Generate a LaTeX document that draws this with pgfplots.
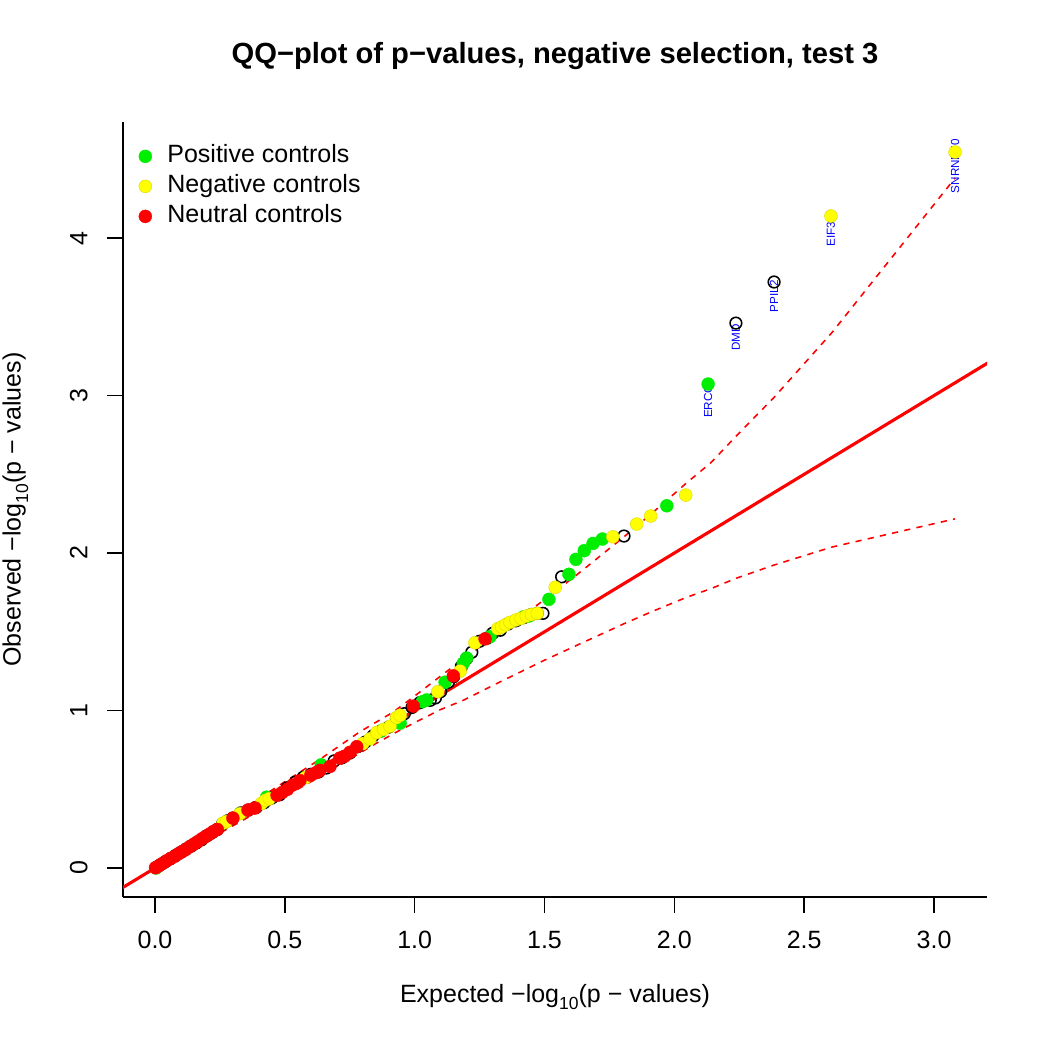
\documentclass[border=0pt]{standalone}
\usepackage{fontspec}
\setmainfont{Liberation Sans}
\usepackage{pgfplots}
\pgfplotsset{compat=1.18}
\definecolor{rgreen}{RGB}{0,238,0}
\definecolor{ryellow}{RGB}{255,255,0}
\definecolor{rred}{RGB}{255,0,0}
\definecolor{rblue}{RGB}{0,0,255}
\newcommand{\lgt}{\raisebox{-0.3em}{\fontsize{8.4bp}{9bp}\selectfont 10}}
\begin{document}
\fontsize{12bp}{14.4bp}\selectfont
\begin{tikzpicture}
\path[use as bounding box] (0,0) rectangle (504bp,504bp);
\node[anchor=base, font=\fontsize{14bp}{17bp}\selectfont\bfseries] at (266.4bp,473.6bp) {QQ−plot of p−values, negative selection, test 3};
\begin{axis}[
  at={(59.04bp,73.44bp)}, anchor=south west,
  scale only axis, width=414.72bp, height=372bp,
  xmin=-0.1232, xmax=3.204, ymin=-0.184, ymax=4.737,
  axis x line*=bottom, axis y line*=left,
  axis line style={-, line width=0.75bp, black},
  every tick/.style={black, line width=0.75bp},
  tick align=outside, major tick length=7.5bp,
  xtick={0,0.5,1,1.5,2,2.5,3}, ytick={0,1,2,3,4},
  /pgf/number format/assume math mode=true,
  xticklabel style={/pgf/number format/fixed, /pgf/number format/fixed zerofill, /pgf/number format/precision=1,
     anchor=base, inner sep=0pt, yshift=-17.2bp},
  yticklabel style={/pgf/number format/fixed, /pgf/number format/precision=0,
     xshift=-9.6bp, rotate=90, anchor=base, inner sep=0pt},
  xlabel={Expected −log\lgt(p − values)},
  ylabel={Observed −log\lgt(p − values)},
  xlabel style={at={(axis description cs:0.5,-0.13548)}, anchor=base, inner sep=0pt},
  ylabel style={at={(axis description cs:-0.1184,0.5)}, anchor=base, inner sep=0pt},
  legend style={at={(axis description cs:0.0179,0.9723)}, anchor=north west, draw=none, fill=none,
    inner sep=0pt, row sep=2.4bp, column sep=7.5bp,
    nodes={inner sep=0pt, text height=9bp, text depth=3bp}},
  legend cell align=left,
  legend image code/.code={\draw[#1] plot coordinates {(0bp,0bp)};},
]
% identity line
\addplot[forget plot, rred, line width=1.5bp] coordinates {(-0.3,-0.3) (3.4,3.4)};
% upper envelope
\addplot[forget plot, rred, line width=0.75bp, dash pattern=on 3bp off 3bp] coordinates {
(0.0007,0.0008) (0.1,0.118) (0.2,0.226) (0.3,0.334) (0.47,0.516) (0.635,0.69) (0.789,0.865)
(0.917,0.99) (0.995,1.086) (1.089,1.205) (1.187,1.328) (1.314,1.478) (1.494,1.697) (1.623,1.860)
(1.806,2.103) (1.909,2.246) (1.971,2.335) (2.044,2.441) (2.141,2.574) (2.240,2.746) (2.386,2.992)
(2.607,3.400) (3.081,4.381)};
% lower envelope
\addplot[forget plot, rred, line width=0.75bp, dash pattern=on 3bp off 3bp] coordinates {
(0.0007,0.0006) (0.1,0.083) (0.2,0.175) (0.3,0.268) (0.47,0.425) (0.661,0.605) (0.85,0.79)
(0.944,0.876) (1.098,1.005) (1.187,1.065) (1.314,1.170) (1.494,1.315) (1.623,1.413) (1.806,1.551)
(1.909,1.625) (2.044,1.717) (2.141,1.774) (2.240,1.841) (2.386,1.925) (2.607,2.038) (3.081,2.217)};
% all genes (open circles)
\addplot[forget plot, only marks, mark=o, mark size=2.8bp, black, mark options={line width=0.75bp}] coordinates {
(0.006,0.005) (0.02,0.02) (0.04,0.04) (0.06,0.06) (0.08,0.08) (0.10,0.10) (0.12,0.12) (0.14,0.14)
(0.16,0.16) (0.18,0.18) (0.20,0.205) (0.22,0.225) (0.24,0.245) (0.26,0.28) (0.28,0.30) (0.30,0.317)
(0.33,0.35) (0.36,0.368) (0.39,0.385) (0.42,0.415) (0.45,0.445) (0.48,0.465) (0.51,0.51) (0.54,0.545)
(0.57,0.575) (0.60,0.595) (0.63,0.61) (0.66,0.635) (0.69,0.68) (0.72,0.70) (0.75,0.73) (0.78,0.77)
(0.81,0.80) (0.84,0.84) (0.87,0.87) (0.90,0.895) (0.93,0.95) (0.96,0.98) (0.99,1.02) (1.02,1.05)
(1.06,1.065) (1.08,1.08) (1.10,1.12) (1.13,1.18) (1.15,1.215) (1.18,1.28) (1.20,1.33) (1.22,1.37)
(1.25,1.44) (1.28,1.46) (1.30,1.49) (1.33,1.51) (1.36,1.55) (1.39,1.57) (1.42,1.59) (1.45,1.61)
(1.472,1.617) (1.494,1.617) (1.566,1.849) (1.806,2.108) (2.237,3.460) (2.384,3.721)};
% gene labels
\node[rotate=90, text=rblue, font=\fontsize{5.6bp}{6bp}\selectfont, inner sep=0pt] at ([yshift=-6.8bp]axis cs:3.081,4.546) {SNRNP70};
\node[rotate=90, text=rblue, font=\fontsize{5.6bp}{6bp}\selectfont, inner sep=0pt] at ([yshift=-6.8bp]axis cs:2.603,4.140) {EIF3C};
\node[rotate=90, text=rblue, font=\fontsize{5.6bp}{6bp}\selectfont, inner sep=0pt] at ([yshift=-6.8bp]axis cs:2.384,3.721) {PPIL2};
\node[rotate=90, text=rblue, font=\fontsize{5.6bp}{6bp}\selectfont, inner sep=0pt] at ([yshift=-6.8bp]axis cs:2.237,3.460) {DMD};
\node[rotate=90, text=rblue, font=\fontsize{5.6bp}{6bp}\selectfont, inner sep=0pt] at ([yshift=-6.8bp]axis cs:2.130,3.073) {ERCC3};
% positive controls
\addplot[only marks, mark=*, mark size=3.1bp, rgreen, mark options={draw=rgreen, fill=rgreen, line width=0.2bp}] coordinates {
(0.004,0.0) (0.43,0.45) (0.64,0.655) (0.87,0.87) (0.944,0.92) (1.03,1.056) (1.046,1.067) (1.117,1.18)
(1.187,1.30) (1.2,1.333) (1.29,1.469) (1.418,1.594) (1.44,1.60) (1.517,1.706) (1.594,1.865)
(1.621,1.960) (1.653,2.015) (1.687,2.061) (1.723,2.089) (1.971,2.300) (2.130,3.073)};
\addlegendentry{Positive controls}
% negative controls
\addplot[only marks, mark=*, mark size=3.1bp, ryellow, mark options={draw=ryellow!85!black, fill=ryellow, line width=0.2bp}] coordinates {
(0.262,0.285) (0.275,0.295) (0.327,0.345) (0.41,0.41) (0.425,0.43) (0.44,0.44) (0.58,0.575)
(0.80,0.79) (0.828,0.82) (0.854,0.86) (0.88,0.88) (0.905,0.90) (0.93,0.955) (0.944,0.97)
(1.089,1.12) (1.175,1.25) (1.232,1.43) (1.32,1.52) (1.335,1.53) (1.35,1.545) (1.367,1.56)
(1.39,1.575) (1.41,1.585) (1.43,1.60) (1.45,1.61) (1.472,1.617) (1.541,1.782) (1.763,2.103)
(1.855,2.184) (1.909,2.235) (2.044,2.368) (2.603,4.140) (3.081,4.546)};
\addlegendentry{Negative controls}
% neutral controls
\addplot[only marks, mark=*, mark size=3.1bp, rred, mark options={draw=rred, fill=rred, line width=0.2bp}] coordinates {
(0.002,0.002) (0.015,0.014) (0.03,0.03) (0.045,0.046) (0.06,0.06) (0.075,0.074) (0.09,0.09)
(0.105,0.105) (0.12,0.12) (0.135,0.137) (0.15,0.152) (0.165,0.168) (0.18,0.185) (0.195,0.2)
(0.21,0.215) (0.225,0.232) (0.24,0.245) (0.30,0.317) (0.358,0.368) (0.385,0.381) (0.47,0.462)
(0.49,0.48) (0.51,0.50) (0.53,0.527) (0.558,0.555) (0.60,0.59) (0.62,0.605) (0.635,0.62)
(0.674,0.645) (0.712,0.698) (0.73,0.71) (0.751,0.735) (0.777,0.77) (0.995,1.028) (1.149,1.22)
(1.271,1.455)};
\addlegendentry{Neutral controls}
\end{axis}
\end{tikzpicture}
\end{document}
